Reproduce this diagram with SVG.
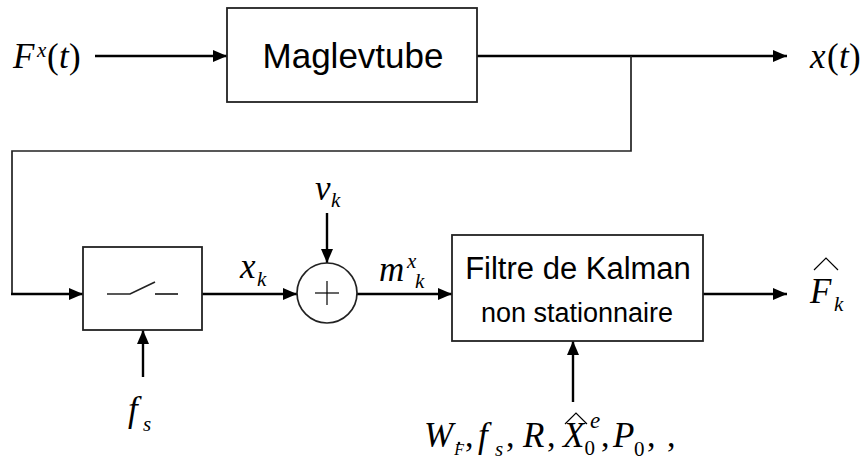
<svg xmlns="http://www.w3.org/2000/svg" width="864" height="469" viewBox="0 0 864 469">
<defs>
<style>
.box{fill:#fff;stroke:#222;stroke-width:1.8}
.wire{fill:none;stroke:#000;stroke-width:2.4}
.thin{fill:none;stroke:#222;stroke-width:1.7}
.sans{font-family:"Liberation Sans",Arial,sans-serif;fill:#000}
.m{font-family:"Liberation Serif","Times New Roman",serif;font-style:italic;fill:#000}
.r{font-family:"Liberation Serif","Times New Roman",serif;fill:#000}
.hat{fill:none;stroke:#000;stroke-width:1.2}
</style>
<marker id="ah" markerWidth="14" markerHeight="12" refX="14" refY="6" orient="auto" markerUnits="userSpaceOnUse">
<path d="M0,0 L14,6 L0,12 Z" fill="#000"/>
</marker>
</defs>
<rect width="864" height="469" fill="#fff"/>

<g id="connectors">
<line class="wire" x1="95" y1="56" x2="227" y2="56" marker-end="url(#ah)"/>
<line class="wire" x1="477" y1="56" x2="787" y2="56" marker-end="url(#ah)"/>
<polyline class="thin" points="631,56 631,151 12,151 12,294"/>
<line class="wire" x1="11" y1="294" x2="83" y2="294" marker-end="url(#ah)"/>
<line class="wire" x1="202" y1="294" x2="297" y2="294" marker-end="url(#ah)"/>
<line class="wire" x1="327" y1="213" x2="327" y2="263" marker-end="url(#ah)"/>
<line class="wire" x1="357" y1="294" x2="452" y2="294" marker-end="url(#ah)"/>
<line class="wire" x1="703" y1="294" x2="787" y2="294" marker-end="url(#ah)"/>
<line class="wire" x1="143" y1="377" x2="143" y2="330" marker-end="url(#ah)"/>
<line class="wire" x1="573" y1="402" x2="573" y2="341" marker-end="url(#ah)"/>
</g>

<g id="input">
<text class="m" x="13" y="68" font-size="35">F</text>
<text class="m" x="37" y="57" font-size="21">x</text>
<text class="r" x="47" y="68" font-size="35">(</text>
<text class="m" x="59" y="68" font-size="35">t</text>
<text class="r" x="69" y="68" font-size="35">)</text>
</g>

<g id="maglevtube">
<rect class="box" x="227" y="8" width="250" height="94"/>
<text class="sans" x="353" y="68" font-size="35" text-anchor="middle">Maglevtube</text>
</g>

<g id="output-x">
<text class="m" x="810" y="68" font-size="35">x</text>
<text class="r" x="827" y="68" font-size="35">(</text>
<text class="m" x="839" y="68" font-size="35">t</text>
<text class="r" x="849" y="68" font-size="35">)</text>
</g>

<g id="sampler">
<rect class="box" x="83" y="247" width="119" height="83"/>
<polyline class="thin" points="107,294 130,294 155,282"/>
<line class="thin" x1="155" y1="294" x2="178" y2="294"/>
</g>

<g id="label-xk">
<text class="m" x="240" y="278" font-size="35">x</text>
<text class="m" x="257" y="286" font-size="21">k</text>
</g>

<g id="fs">
<text class="m" x="128" y="421" font-size="35">f</text>
<text class="m" x="143" y="431" font-size="21">s</text>
</g>

<g id="sum">
<circle class="thin" cx="327" cy="293" r="30"/>
<line class="hat" x1="315" y1="293" x2="339" y2="293"/>
<line class="hat" x1="327" y1="281" x2="327" y2="305"/>
</g>

<g id="vk">
<text class="m" x="315" y="200" font-size="35">v</text>
<text class="m" x="331" y="207" font-size="21">k</text>
</g>

<g id="mxk">
<text class="m" x="379" y="281" font-size="35">m</text>
<text class="m" x="407" y="268" font-size="21">x</text>
<text class="m" x="415" y="288" font-size="21">k</text>
</g>

<g id="kalman">
<rect class="box" x="452" y="235" width="251" height="106"/>
<text class="sans" x="578" y="279" font-size="31" text-anchor="middle">Filtre de Kalman</text>
<text class="sans" x="577" y="322" font-size="27" text-anchor="middle">non stationnaire</text>
</g>

<g id="Fhat">
<polyline class="hat" points="814,270 826,258 838,270"/>
<text class="m" x="810" y="303" font-size="35">F</text>
<text class="m" x="834" y="311" font-size="21">k</text>
</g>

<g id="params">
<text class="m" x="424" y="447" font-size="35">W<tspan font-size="16" dx="1" dy="8">F</tspan><tspan class="r" font-style="normal" font-size="34" dx="1" dy="-8">,</tspan></text>
<circle cx="459" cy="443" r="1.3" fill="#000"/>
<text class="m" x="478" y="447" font-size="35">f</text>
<text class="m" x="495" y="456" font-size="21">s</text>
<text class="r" x="506" y="447" font-size="34">,</text>
<text class="m" x="523" y="447" font-size="35">R</text>
<text class="r" x="547" y="447" font-size="34">,</text>
<polyline class="hat" points="565,424 576,413 587,424"/>
<text class="m" x="563" y="447" font-size="35">X<tspan class="r" font-style="normal" font-size="21" dy="8">0</tspan></text>
<text class="m" x="590" y="428" font-size="23">e</text>
<text class="r" x="601" y="447" font-size="34">,</text>
<text class="m" x="613" y="447" font-size="35">P</text>
<text class="r" x="634" y="456" font-size="21">0</text>
<text class="r" x="647" y="447" font-size="34">,</text>
<text class="r" x="667" y="447" font-size="34">,</text>
</g>
</svg>
